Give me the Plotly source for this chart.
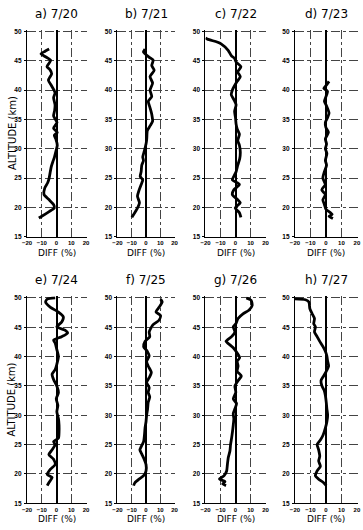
import plotly.graph_objects as go

# ---------------- data (altitude km, difference %) ----------------
alt_a = [18.2, 18.5, 19.3, 19.9, 20.5, 21.3, 22.2, 23.3, 24.2, 25.0, 26.0, 27.0, 27.8, 28.5, 29.2, 30.0,
         30.6, 31.7, 32.3, 32.8, 33.5, 34.5, 35.6, 36.5, 37.5, 38.7, 39.5, 40.0, 40.8, 41.7, 42.8, 43.5,
         44.0, 44.6, 45.1, 45.7, 46.2, 46.6, 47.0]
diff_a = [-12, -10, -5, -1.5, -2, -5, -8.5, -8, -6, -5, -4.3, -3.5, -2.5, -1.5, -0.8, 0,
          0.5, -0.5, -1.5, 0.5, -2, 0.3, -2, -1.3, -1, -2, -1, -1.7, -3.5, -5.5, -3.3, -4.5,
          -6.5, -5, -4, -7.5, -10.5, -8, -5]

alt_b = [18.3, 18.8, 19.7, 20.8, 21.9, 23.0, 23.9, 24.7, 25.3, 26.1, 27.2, 28.0, 28.6, 29.7, 30.8, 31.7,
         33.1, 33.9, 34.7, 35.9, 37.0, 38.1, 38.9, 40.0, 41.2, 42.3, 43.4, 44.2, 45.1, 45.6, 46.5, 47.0]
diff_b = [-9.9, -8.7, -6.4, -4.6, -6, -4.8, -3.4, -2.3, -4.1, -3.4, -3, -1.8, -2.3, -1.1, 0, 0.5,
          0.9, 2.8, 4.6, 4, 2.8, 1.6, 4, 2.8, 4.6, 2.8, 5.7, 4, 5, 2.3, -1.8, -0.7]

alt_c = [18.3, 19.1, 19.9, 20.8, 21.3, 22.2, 23.0, 23.9, 24.7, 25.3, 26.1, 27.2, 28.3, 29.4, 30.6, 31.4,
         32.5, 33.4, 34.2, 35.3, 36.4, 37.5, 38.4, 39.2, 40.0, 41.5, 42.3, 43.1, 44.0, 44.8, 45.4, 45.9,
         46.8, 47.9, 48.2, 48.7, 48.9]
diff_c = [3.6, 2.6, -0.2, 3.2, 1.5, -2.1, -1.1, 2.6, -2.1, -1.1, 0.4, 1.5, 2.8, 3.2, 2.6, 1.5,
          2.6, 1.1, 0.4, 0, -0.6, 0.4, -1.1, -2.8, -2.1, 1.1, 3.2, 1.5, 3.6, 0.4, -0.6, -2.8,
          -4.9, -9.6, -12.3, -18.7, -20]

alt_d = [18.1, 18.5, 18.8, 19.7, 20.5, 21.3, 22.2, 23.0, 23.9, 25.0, 26.1, 27.2, 28.0, 29.2, 30.0, 30.8,
         31.7, 32.8, 33.6, 34.5, 35.3, 36.1, 37.3, 38.1, 38.9, 39.8, 40.3, 40.9, 41.5]
diff_d = [4.5, 2, 4, 0, -1, -2, -0.4, -2.7, -0.4, -2, -1, 0.4, -0.4, 0.6, -0.4, 0.4,
          -0.4, 1.6, 0, -0.4, 1, 2, 0.4, -1, 0, 1, -1.4, 0.4, 2]

alt_e = [18.0, 18.5, 19.4, 19.9, 20.8, 21.6, 22.5, 23.3, 24.1, 25.0, 25.5, 26.1, 27.2, 28.3, 29.4, 30.6,
         31.7, 32.8, 33.9, 35.0, 36.1, 37.0, 37.8, 38.7, 40.0, 41.2, 42.3, 42.8, 43.4, 44.0, 44.5, 45.1,
         45.9, 46.8, 47.6, 48.4, 49.3, 49.8, 50.0]
diff_e = [-6.3, -5.2, -3, -6.3, -4.1, -0.9, -2, -5.2, -3, -0.9, -2, 1.3, 1.7, 1.7, 1.3, 0.2,
          0.9, -0.2, 1.3, 0.2, -2, -3, -0.9, 0.2, 1.3, 0.2, -0.9, -2, 3.5, 7.5, 5.7, 0.2,
          3.5, 4.6, 1.3, -4.1, -7.4, -6.3, -0.9]

alt_f = [18.0, 18.5, 19.1, 19.7, 20.5, 21.6, 22.5, 23.3, 24.1, 24.7, 25.5, 26.6, 27.8, 28.9, 30.0, 31.1,
         32.2, 33.1, 33.9, 34.7, 35.6, 36.4, 37.3, 38.4, 39.2, 40.1, 40.9, 41.7, 42.6, 43.4, 44.2, 45.4,
         46.2, 47.0, 47.6, 48.4, 49.3, 49.8]
diff_f = [-8.7, -7.8, -5, -1.7, 0, 0, -1.3, -2.8, -4.3, -3.3, -1.7, -1.1, -0.7, 0, 0.4, 1.1,
          1.5, 2.6, 1.5, 2.2, 0.4, 2.2, 3.7, 1.5, 0.4, 2.2, 0.9, -1.7, -0.7, 2.6, 2.2, 4.8,
          9.1, 10.2, 7, 9.1, 11.3, 10.2]

alt_g = [18.0, 18.3, 18.7, 19.1, 19.7, 20.5, 21.6, 22.8, 23.9, 25.0, 26.1, 27.2, 28.3, 29.4, 30.3, 31.1,
         32.0, 32.8, 33.9, 35.0, 35.9, 36.7, 37.5, 38.4, 39.2, 39.8, 40.6, 41.5, 42.0, 42.6, 43.4, 44.2,
         45.1, 45.6, 46.5, 47.3, 47.9, 48.7, 49.6, 50.0]
diff_g = [-6.3, -8.5, -7, -10.7, -7.6, -5.9, -5.4, -4.8, -3.7, -3.3, -2.6, -2, -1.5, -1.1, -1.5, -0.4,
          0.7, -1.5, 0.2, -0.4, 1.7, 3.9, 1.1, 1.7, 1.1, 2.8, 1.1, -1.5, -3.7, -6.3, -2.6, -0.4,
          -1.5, 0.2, 1.7, 5, 8.9, 11.1, 10.4, 7.2]

alt_h = [18.0, 18.5, 19.1, 19.7, 20.5, 21.3, 22.2, 23.0, 24.1, 25.0, 25.8, 26.6, 27.8, 28.9, 30.0, 31.1,
         32.2, 33.4, 34.2, 35.0, 35.9, 36.7, 37.5, 38.4, 39.2, 40.1, 40.9, 41.7, 42.6, 43.4, 44.2, 45.1,
         45.6, 46.5, 47.3, 48.2, 49.3, 49.7, 49.85]
diff_h = [0.2, -1.5, -4.7, -6.8, -5.7, -3.6, -4.7, -4, -4.7, -5.7, -3.6, -1.9, -0.4, 0.6, 1.1, 0.6,
          0.2, -0.4, -1.1, -2.6, -3.2, -1.5, 0.2, 1.7, 1.1, 0.6, -0.4, -1.9, -4, -5.7, -7.4, -6.8,
          -7.9, -7.4, -8.9, -10.4, -11, -13.2, -20]

titles = ["a) 7/20", "b) 7/21", "c) 7/22", "d) 7/23", "e) 7/24", "f) 7/25", "g) 7/26", "h) 7/27"]
profiles = [(alt_a, diff_a), (alt_b, diff_b), (alt_c, diff_c), (alt_d, diff_d),
            (alt_e, diff_e), (alt_f, diff_f), (alt_g, diff_g), (alt_h, diff_h)]

x_ticks = [-20, -10, 0, 10, 20]
x_tick_text = ["\u221220", "\u221210", "0", "10", "20"]
y_ticks = [15, 20, 25, 30, 35, 40, 45, 50]

# ---------------- layout geometry ----------------
W, H = 363, 530
col_px = [(22.5, 83.5), (115, 174), (205, 267), (296.5, 360.5)]
row_px = [(28, 237), (297, 506)]

fig = go.Figure()
layout = dict(width=W, height=H, margin=dict(l=0, r=0, t=0, b=0),
              paper_bgcolor="white", plot_bgcolor="white", showlegend=False,
              font=dict(family="Liberation Sans, Arial, sans-serif", color="black"))
annotations = []

tick_font = dict(size=6.5, family="Liberation Sans, Arial, sans-serif", color="black", weight=700)
xtick_font = dict(size=6, family="Liberation Sans, Arial, sans-serif", color="black", weight=700)

for i, (alt, diff) in enumerate(profiles):
    r, c = divmod(i, 4)
    n = i + 1
    xs = "" if n == 1 else str(n)
    x0, x1 = col_px[c]
    y0, y1 = row_px[r]
    xd = [x0 / W, x1 / W]
    yd = [1 - y1 / H, 1 - y0 / H]
    fig.add_trace(go.Scatter(x=diff, y=alt, mode="lines",
                             line=dict(color="black", width=2.8, shape="spline", smoothing=0.6),
                             xaxis="x" + xs, yaxis="y" + xs, hoverinfo="skip"))
    layout["xaxis" + xs] = dict(domain=xd, anchor="y" + xs, range=[-20, 20.4],
                                tickvals=x_ticks, ticktext=x_tick_text, tickfont=xtick_font,
                                showgrid=True, gridcolor="#444", gridwidth=0.8, griddash="dashdot",
                                zeroline=True, zerolinecolor="black", zerolinewidth=1.6,
                                showline=True, linecolor="black", linewidth=1.2,
                                ticks="", ticklabelstandoff=0, fixedrange=True)
    layout["yaxis" + xs] = dict(domain=yd, anchor="x" + xs, range=[15, 50.3],
                                tickvals=y_ticks, tickfont=tick_font,
                                showgrid=True, gridcolor="#444", gridwidth=0.8, griddash="dashdot",
                                zeroline=False, showline=True, linecolor="black", linewidth=1.2,
                                ticks="outside", ticklen=2, tickcolor="black",
                                ticklabelstandoff=1, fixedrange=True)
    cx = (x0 + x1) / 2 / W
    title_y = 1 - (y0 - 16) / H
    annotations.append(dict(text=titles[i], x=cx, y=title_y, xref="paper", yref="paper",
                            xanchor="center", yanchor="middle", showarrow=False,
                            font=dict(size=12, family="DejaVu Sans, sans-serif", color="black")))
    annotations.append(dict(text="DIFF (%)", x=cx, y=1 - (y1 + 16) / H, xref="paper", yref="paper",
                            xanchor="center", yanchor="middle", showarrow=False,
                            font=dict(size=9, family="DejaVu Sans, sans-serif", color="black")))
    if c == 0:
        annotations.append(dict(text="ALTITUDE (km)", x=7 / W, y=1 - ((y0 + y1) / 2) / H,
                                xref="paper", yref="paper", xanchor="center", yanchor="middle",
                                textangle=-90, showarrow=False,
                                font=dict(size=10, family="DejaVu Sans, sans-serif", color="black")))

layout["annotations"] = annotations
fig.update_layout(**layout)
fig.write_html("out.html")
